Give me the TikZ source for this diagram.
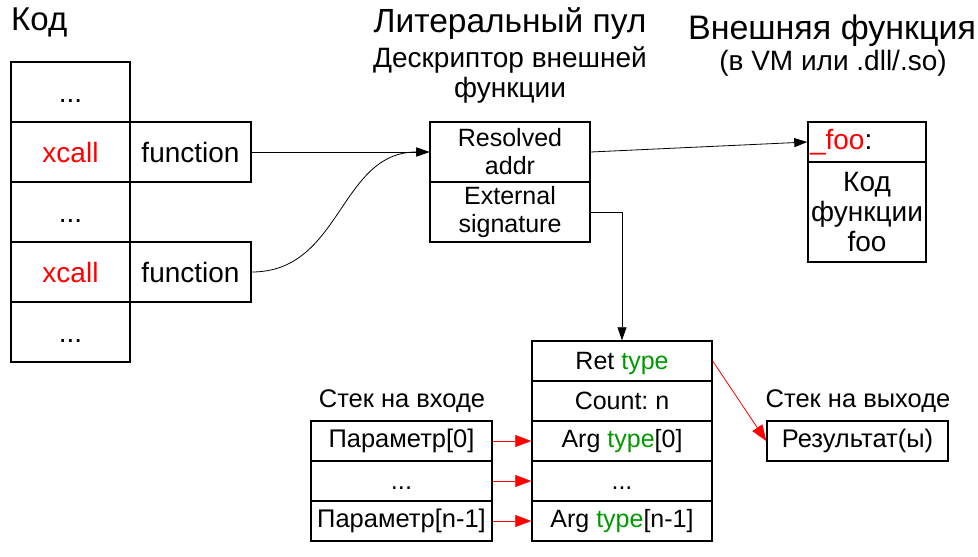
\documentclass[tikz,border=0pt]{standalone}
\usepackage{fontspec}
\setmainfont{Liberation Sans}
\usetikzlibrary{arrows.meta}
\definecolor{tgreen}{RGB}{0,153,0}
\newcommand\fsz[2]{\fontsize{#1}{#2}\selectfont}
\frenchspacing
\begin{document}
\begin{tikzpicture}[x=1pt,y=-1pt,
  cell/.style={draw,line width=1.5pt,inner sep=0pt,align=center,font=\fsz{25pt}{28pt}},
  codecell/.style={cell,minimum width=119pt,minimum height=60pt,font=\fsz{28pt}{30pt}},
  funcell/.style={cell,minimum width=121pt,minimum height=60pt,font=\fsz{28pt}{30pt}},
  lpcell/.style={cell,minimum width=160pt,minimum height=60pt,font=\fsz{25pt}{28pt}},
  sigcell/.style={cell,minimum width=180pt,minimum height=40pt,font=\fsz{25pt}{28pt}},
  stkcell/.style={cell,minimum width=181pt,minimum height=40pt,font=\fsz{25.5pt}{28pt}},
  dotrow/.style={text height=#1,text depth=0pt},
  dotrow/.default=20pt,
  title/.style={inner sep=0pt,align=center},
  blk/.style={line width=0.8pt,-{Triangle[length=13pt,width=9pt]}},
  redarr/.style={red,line width=0.8pt,-{Triangle[length=16pt,width=12pt]}}]
\useasboundingbox (0,0) rectangle (978,557);

% titles
\node[title,anchor=west,font=\fsz{33pt}{36pt}] (tcode) at (11,22) {Код};
\node[title,font=\fsz{33.5pt}{36pt}] (tlit) at (510,24) {Литеральный пул};
\node[title,font=\fsz{28pt}{30pt}] (tdesc) at (510,75) {Дескриптор внешней\\функции};
\node[title,font=\fsz{34pt}{36pt}] (text) at (832,31) {Внешняя функция};
\node[title,font=\fsz{28pt}{30pt}] (textsub) at (833,63) {(в VM или .dll/.so)};

% code column
\node[codecell,dotrow] (c1) at (70.5,92) {...};
\node[codecell] (c2) at (70.5,152) {\textcolor{red}{xcall}};
\node[codecell,dotrow] (c3) at (70.5,212) {...};
\node[codecell] (c4) at (70.5,272) {\textcolor{red}{xcall}};
\node[codecell,dotrow] (c5) at (70.5,332) {...};
\node[funcell] (f1) at (190.5,152) {function};
\node[funcell] (f2) at (190.5,272) {function};

% literal pool
\node[lpcell] (lp1) at (510,152) {Resolved\\addr};
\node[lpcell] (lp2) at (510,212) {External\\signature};

% external function
\node[cell,minimum width=118pt,minimum height=40pt,text width=114pt,align=left,font=\fsz{28pt}{30pt}] (foo1) at (867,142) {\textcolor{red}{\_foo}:};
\node[cell,minimum width=118pt,minimum height=100pt,font=\fsz{28pt}{30pt}] (foo2) at (867,212) {Код\\функции\\foo};

% signature
\node[sigcell,dotrow=16pt] (s1) at (622,361) {Ret \textcolor{tgreen}{type}};
\node[sigcell] (s2) at (622,401) {Count: n};
\node[sigcell] (s3) at (622,441) {Arg \textcolor{tgreen}{type}[0]};
\node[sigcell,dotrow=16pt] (s4) at (622,481) {...};
\node[sigcell] (s5) at (622,521) {Arg \textcolor{tgreen}{type}[n-1]};

% input stack
\node[title,font=\fsz{25.5pt}{28pt}] (tin) at (402,401) {Стек на входе};
\node[stkcell] (i1) at (401.5,441) {Параметр[0]};
\node[stkcell,dotrow=16pt] (i2) at (401.5,481) {...};
\node[stkcell] (i3) at (401.5,521) {Параметр[n-1]};

% output stack
\node[title,font=\fsz{25.5pt}{28pt}] (tout) at (858,401) {Стек на выходе};
\node[stkcell] (o1) at (857.5,441) {Результат(ы)};

% connectors
\draw[blk] (f1.east) -- (lp1.west);
\draw[blk] (f2.east) .. controls +(90,0) and +(-90,0) .. (lp1.west);
\draw[blk] (lp1.east) -- (foo1.west);
\draw[blk] (lp2.east) -| (s1.north);
\draw[redarr] (i1.east) -- (s3.west);
\draw[redarr] (i2.east) -- (s4.west);
\draw[redarr] (i3.east) -- (s5.west);
\draw[redarr] (s1.east) -- (o1.west);
\end{tikzpicture}
\end{document}
